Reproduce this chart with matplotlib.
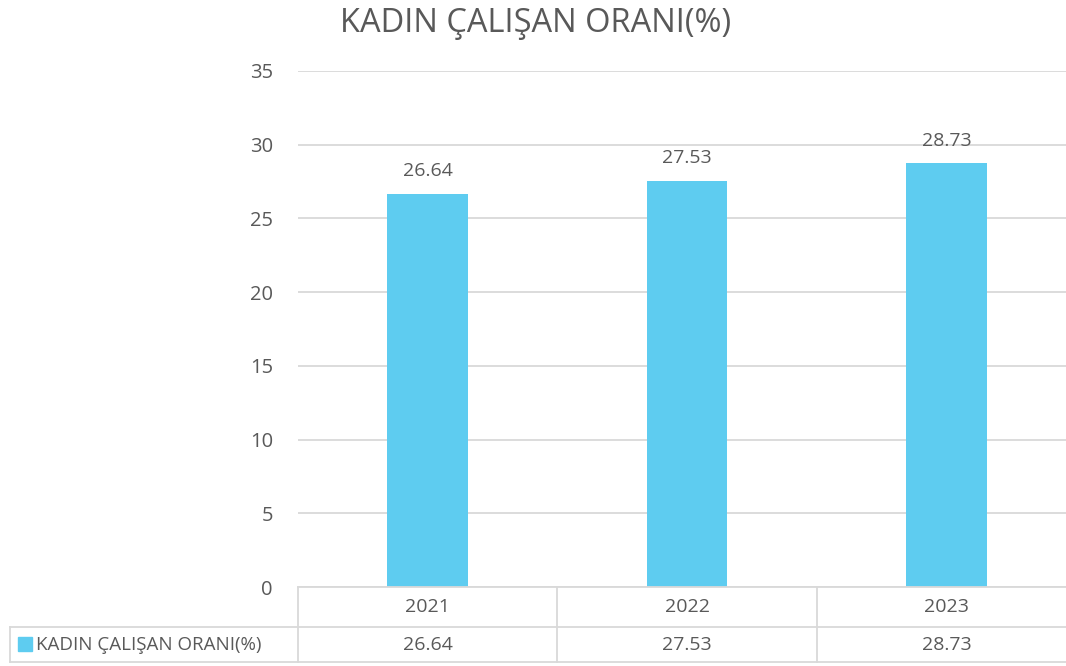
import matplotlib.pyplot as plt
from matplotlib.lines import Line2D
from matplotlib.patches import Rectangle

# Dane
years = ['2021', '2022', '2023']
values = [26.64, 27.53, 28.73]
series_name = 'KADIN ÇALIŞAN ORANI(%)'
yticks = [0, 5, 10, 15, 20, 25, 30, 35]

BAR_COLOR = '#5ECCF0'
TEXT_COLOR = '#595959'
GRID_COLOR = '#D9D9D9'

plt.rcParams['font.family'] = ['Open Sans', 'DejaVu Sans']

fig = plt.figure(figsize=(10.66, 6.66), dpi=100)
# oś sięga poza prawą krawędź, jak w oryginale
ax = fig.add_axes([0.2795, 0.1186, 0.7303, 0.7748])

x = list(range(len(years)))
ax.bar(x, values, width=0.31, color=BAR_COLOR, zorder=3)
for xi, v in zip(x, values):
    ax.annotate(f'{v:.2f}', (xi, v), xytext=(0, 10), textcoords='offset points',
                ha='center', va='bottom', fontsize=14, color=TEXT_COLOR)

ax.set_xlim(-0.5, len(years) - 0.5)
ax.set_ylim(0, 35)
ax.set_yticks(yticks)
ax.set_xticks([])
ax.yaxis.grid(True, color=GRID_COLOR, linewidth=1.3, zorder=0)
ax.tick_params(axis='y', length=0, pad=18, labelsize=14.5, labelcolor=TEXT_COLOR)
for s in ax.spines.values():
    s.set_visible(False)

fig.suptitle(series_name, x=0.502, y=0.99, fontsize=23.5, color=TEXT_COLOR)

# Tabela danych pod wykresem
tr = ax.transData
to_fig = fig.transFigure.inverted()
def fx(xd):
    return to_fig.transform(tr.transform((xd, 0)))[0]

y0 = 0.1186
y1 = 1 - 627 / 666
y2 = 1 - 662 / 666
left_lbl = 10 / 1066
edges = [fx(i - 0.5) for i in range(len(years) + 1)]

line_kw = dict(color=GRID_COLOR, linewidth=1.3, transform=fig.transFigure)
fig.add_artist(Line2D([edges[0], edges[-1]], [y0, y0], **line_kw))
fig.add_artist(Line2D([left_lbl, edges[-1]], [y1, y1], **line_kw))
fig.add_artist(Line2D([left_lbl, edges[-1]], [y2, y2], **line_kw))
for e in edges:
    fig.add_artist(Line2D([e, e], [y2, y0], **line_kw))
fig.add_artist(Line2D([left_lbl, left_lbl], [y2, y1], **line_kw))

for i, (yr, v) in enumerate(zip(years, values)):
    fig.text(fx(i), (y0 + y1) / 2, yr, ha='center', va='center', fontsize=14, color=TEXT_COLOR)
    fig.text(fx(i), (y1 + y2) / 2, f'{v:.2f}', ha='center', va='center', fontsize=14, color=TEXT_COLOR)

fig.add_artist(Rectangle((18 / 1066, 1 - 651 / 666), 14 / 1066, 14 / 666,
                         color=BAR_COLOR, transform=fig.transFigure))
fig.text(36 / 1066, (y1 + y2) / 2, series_name, ha='left', va='center', fontsize=13.5, color=TEXT_COLOR)

fig.savefig('out.png', dpi=100)
